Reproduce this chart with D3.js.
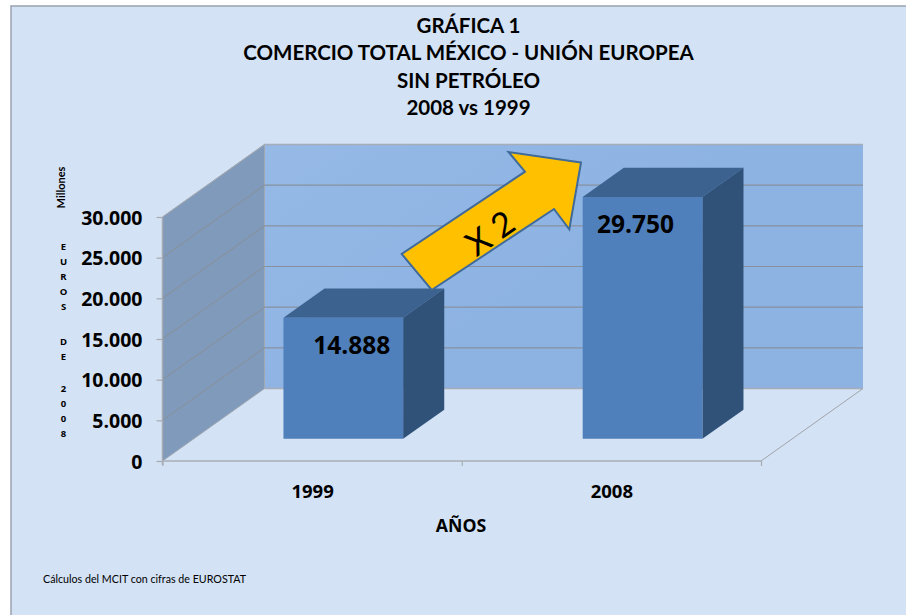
<!DOCTYPE html>
<html><head><meta charset="utf-8">
<script src="https://cdnjs.cloudflare.com/ajax/libs/d3/7.8.5/d3.min.js"></script>
<style>html,body{margin:0;padding:0;background:#fff;overflow:hidden}svg{display:block}
text{fill:#000}</style></head><body><svg id="c" width="906" height="615"></svg>
<script>
const categories = ["1999", "2008"];
const values = [14888, 29750];
const valueLabels = ["14.888", "29.750"];
const yTicks = [0, 5000, 10000, 15000, 20000, 25000, 30000];
const titleLines = ["GRÁFICA 1", "COMERCIO TOTAL MÉXICO - UNIÓN EUROPEA", "SIN PETRÓLEO", "2008 vs 1999"];
const yUnit = "Millones";
const yTitleGroups = ["EUROS", "DE", "2008"];
const xTitle = "AÑOS";
const source = "Cálculos del MCIT con cifras de EUROSTAT";
const arrowText = "X 2";

const svg = d3.select("#c");
const title = "Lato, sans-serif", heavy = "'Open Sans', sans-serif";

// background panel
svg.append("rect").attr("x", 11).attr("y", 6).attr("width", 910).attr("height", 625)
  .attr("fill", "#D3E2F4").attr("stroke", "#9AA3AE").attr("stroke-width", 1.5);

const defs = svg.append("defs");
const g1 = defs.append("linearGradient").attr("id", "wall").attr("x1", 0).attr("y1", 0).attr("x2", 1).attr("y2", 0.6);
g1.append("stop").attr("offset", 0).attr("stop-color", "#96B9E6");
g1.append("stop").attr("offset", 0.6).attr("stop-color", "#8DB3E3");

// scales and oblique projection
const x = d3.scaleBand().domain(categories).range([162.5, 761]).paddingInner(0.6).paddingOuter(0.3);
const xEdge = d3.scaleLinear().domain([0, categories.length]).range([162.5, 761]);
const y = d3.scaleLinear().domain([0, 30000]).range([461, 217]);
const depthX = 102, depthY = 72.5;
const px = (v, d) => v + d * depthX;
const py = (v, d) => y(v) - d * depthY;
const poly = pts => d3.line()(pts);
const x0 = xEdge(0), x1 = xEdge(2), yMax = yTicks[yTicks.length - 1];

// floor
svg.append("path").attr("d", poly([[x0, y(0)], [x1, y(0)], [px(x1, 1), py(0, 1)], [px(x0, 1), py(0, 1)]]) + "Z")
  .attr("fill", "#D3E2F4");
svg.append("line").attr("x1", x1).attr("y1", y(0)).attr("x2", px(x1, 1)).attr("y2", py(0, 1))
  .attr("stroke", "#A0A4AA").attr("stroke-width", 1);

// back wall
svg.append("path").attr("d", poly([[px(x0, 1), py(0, 1)], [px(x1, 1), py(0, 1)], [px(x1, 1), py(yMax, 1)], [px(x0, 1), py(yMax, 1)]]) + "Z")
  .attr("fill", "url(#wall)");
// side wall
svg.append("path").attr("d", poly([[x0, y(0)], [px(x0, 1), py(0, 1)], [px(x0, 1), py(yMax, 1)], [x0, y(yMax)]]) + "Z")
  .attr("fill", "#7F9ABB").attr("stroke", "#A0A8B2").attr("stroke-width", 1);

// gridlines
const grid = svg.append("g").attr("fill", "none");
yTicks.forEach(t => {
  if (t > 0) grid.append("path").attr("d", poly([[x0, y(t)], [px(x0, 1), py(t, 1)]]))
    .attr("stroke", t === yMax ? "#A0A8B2" : "#8A8F96").attr("stroke-width", 1);
  grid.append("path").attr("d", poly([[px(x0, 1), py(t, 1)], [px(x1, 1), py(t, 1)]]))
    .attr("stroke", t === yMax || t === 0 ? "#A6ADB8" : "#87919E").attr("stroke-width", t === yMax || t === 0 ? 1.3 : 1.2);
});

// y axis
const yAxis = svg.append("g").attr("transform", `translate(${x0},0)`)
  .call(d3.axisLeft(y).tickValues(yTicks).tickSize(6).tickPadding(14)
    .tickFormat(d => d3.format(",")(d).replace(/,/g, ".")));
yAxis.select(".domain").attr("stroke", "#A6ABB2").attr("stroke-width", 1.5).attr("d", `M0,${y(yMax)}V${y(0) + 4}`);
yAxis.selectAll(".tick line").attr("stroke", "#A6ABB2").attr("stroke-width", 1.2);
yAxis.selectAll("text").attr("font-family", heavy).attr("font-weight", 700).attr("font-size", 19.5).attr("fill", "#000").attr("dy", "0.36em");

// x axis: edges and category labels
const xTickAxis = svg.append("g").attr("transform", `translate(0,${y(0)})`)
  .call(d3.axisBottom(xEdge).tickValues([0, 1, 2]).tickSize(5).tickFormat(""));
xTickAxis.select(".domain").attr("stroke", "#A9AEB5").attr("stroke-width", 1.6).attr("d", `M${x0},0H${x1}`);
xTickAxis.selectAll(".tick line").attr("stroke", "#A9AEB5").attr("stroke-width", 1.2);

const xCenters = d3.scalePoint().domain(categories).range([xEdge(0.5), xEdge(1.5)]);
const xLabels = svg.append("g").attr("transform", `translate(0,${y(0)})`)
  .call(d3.axisBottom(xCenters).tickSize(0).tickPadding(24));
xLabels.select(".domain").remove();
xLabels.selectAll("text").attr("font-family", heavy).attr("font-weight", 700).attr("font-size", 18.5).attr("fill", "#000");

// bars
const dFront = 22 / 72, dBack = 51 / 72;
const bars = svg.append("g").selectAll("g").data(categories).join("g");
const val = c => values[categories.indexOf(c)];
const L = c => x(c), R = c => x(c) + x.bandwidth();
bars.append("path").attr("fill", "#3C6390")
  .attr("d", c => poly([[px(L(c), dFront), py(val(c), dFront)], [px(R(c), dFront), py(val(c), dFront)],
    [px(R(c), dBack), py(val(c), dBack)], [px(L(c), dBack), py(val(c), dBack)]]) + "Z");
bars.append("path").attr("fill", "#305279")
  .attr("d", c => poly([[px(R(c), dFront), py(0, dFront)], [px(R(c), dBack), py(0, dBack)],
    [px(R(c), dBack), py(val(c), dBack)], [px(R(c), dFront), py(val(c), dFront)]]) + "Z");
bars.append("path").attr("fill", "#4F80BC")
  .attr("d", c => poly([[px(L(c), dFront), py(0, dFront)], [px(R(c), dFront), py(0, dFront)],
    [px(R(c), dFront), py(val(c), dFront)], [px(L(c), dFront), py(val(c), dFront)]]) + "Z");

// value labels (inside the bar, below its top edge)
bars.append("text").text(c => valueLabels[categories.indexOf(c)])
  .attr("x", (c, i) => px(L(c), dFront) + x.bandwidth() / 2 + (i === 0 ? 8.5 : -7))
  .attr("y", c => py(val(c), dFront) + 36)
  .attr("text-anchor", "middle").attr("font-family", heavy).attr("font-weight", 700).attr("font-size", 24.5);

// annotation arrow
const arrowOutline = [[581, 162.5], [508.5, 152], [525, 171.7], [401.7, 254], [431.7, 290], [554, 209], [569.3, 229.3]];
svg.append("path").attr("d", poly(arrowOutline) + "Z").attr("fill", "#FFC000")
  .attr("stroke", "#3F6A99").attr("stroke-width", 2).attr("stroke-linejoin", "miter");
svg.append("text").text(arrowText).attr("transform", "translate(497,243) rotate(-35)")
  .attr("text-anchor", "middle").attr("font-family", title).attr("font-size", 34).attr("font-weight", 400);

// title
const titleBase = [33, 60, 87.5, 115];
svg.append("g").selectAll("text").data(titleLines).join("text").text(d => d)
  .attr("x", 468.5).attr("y", (d, i) => titleBase[i]).attr("text-anchor", "middle")
  .attr("font-family", title).attr("font-weight", 700).attr("font-size", 20.5);

// y titles
svg.append("text").text(yUnit).attr("transform", "translate(65,187.5) rotate(-90)")
  .attr("text-anchor", "middle").attr("font-family", title).attr("font-weight", 700).attr("font-size", 11);
const groupTop = [246.7, 341.7, 388];
yTitleGroups.forEach((w, gi) => {
  svg.append("g").selectAll("text").data(w.split("")).join("text").text(d => d)
    .attr("x", 63.5).attr("y", (d, i) => groupTop[gi] + i * 15 + 3.5)
    .attr("text-anchor", "middle").attr("font-family", heavy).attr("font-weight", 700).attr("font-size", 9.5);
});

svg.append("text").text(xTitle).attr("x", 461).attr("y", 532).attr("text-anchor", "middle")
  .attr("font-family", heavy).attr("font-weight", 700).attr("font-size", 17.7);
svg.append("text").text(source).attr("x", 43).attr("y", 583)
  .attr("font-family", title).attr("font-size", 10.7);
</script></body></html>
